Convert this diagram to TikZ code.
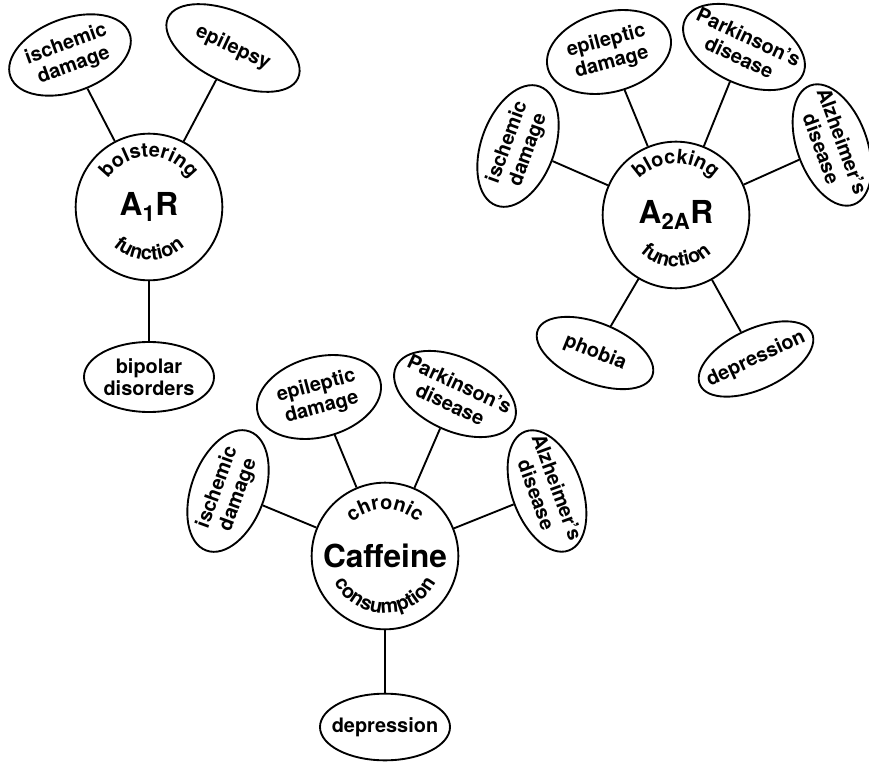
\documentclass[tikz,border=0pt]{standalone}
\usepackage{fontspec}
\setmainfont{TeX Gyre Heros}
\usetikzlibrary{shapes.geometric,decorations.text}
\newcommand{\arcfont}{\fontsize{17}{17}\selectfont\bfseries}
\tikzset{
  hub/.style={circle, draw, line width=1.6pt, minimum size=4.4cm, inner sep=0pt, font=\fontsize{27}{29}\selectfont\bfseries},
  leaf/.style={ellipse, draw, line width=1.6pt, minimum width=3.8cm, minimum height=2.2cm, inner xsep=-0.4cm, inner ysep=0pt, align=center, font=\fontsize{17}{19}\selectfont\bfseries},
  link/.style={line width=1.6pt},
  arctext/.style={decorate, decoration={text along path, text align=center, text={|\arcfont|#1}}}
}
\begin{document}
\begin{tikzpicture}[x=0.03cm, y=-0.03cm]
  \useasboundingbox (0,0) rectangle (869,765);
  % A1R receptor
  \node[hub] (a1) at (149,207) {A\textsubscript{1}R};
  \node[leaf, rotate=20] (a1isch) at (70,55) {ischemic\\damage};
  \node[leaf, rotate=-25, minimum width=4.3cm, minimum height=2.1cm] (a1epil) at (233,48) {epilepsy};
  \node[leaf, minimum width=3.9cm, minimum height=2.1cm] (a1bipo) at (149,377) {bipolar\\disorders};
  \draw[link] (a1) -- (a1isch);
  \draw[link] (a1) -- (a1epil);
  \draw[link] (a1) -- (a1bipo);
  \path[arctext=bolstering] ([shift={(165:1.5cm)}]a1.center) arc[start angle=165, end angle=15, radius=1.5cm];
  \path[arctext=function] ([shift={(205:1.6cm)}]a1.center) arc[start angle=205, end angle=335, radius=1.6cm];
  % A2AR receptor
  \node[hub] (a2) at (676,215) {A\textsubscript{2A}R};
  \node[leaf, rotate=15, minimum height=2.4cm] (a2epil) at (609,52) {epileptic\\damage};
  \node[leaf, rotate=-25, minimum width=3.9cm] (a2park) at (744,47) {Parkinson's\\disease};
  \node[leaf, rotate=70] (a2isch) at (518,146) {ischemic\\damage};
  \node[leaf, rotate=-70, minimum height=2.1cm] (a2alz) at (832,145) {Alzheimer's\\disease};
  \node[leaf, rotate=-22, minimum width=3.7cm, minimum height=1.8cm] (a2phob) at (595,353) {phobia};
  \node[leaf, rotate=25, minimum width=3.7cm, minimum height=1.8cm] (a2depr) at (756,359) {depression};
  \foreach \leaf in {a2epil,a2park,a2isch,a2alz,a2phob,a2depr}
    \draw[link] (a2) -- (\leaf);
  \path[arctext=blocking] ([shift={(165:1.55cm)}]a2.center) arc[start angle=165, end angle=15, radius=1.55cm];
  \path[arctext=function] ([shift={(205:1.55cm)}]a2.center) arc[start angle=205, end angle=335, radius=1.55cm];
  % caffeine
  \node[hub] (caf) at (385,556) {Caffeine};
  \node[leaf, rotate=15, minimum height=2.4cm] (cepil) at (319,397) {epileptic\\damage};
  \node[leaf, rotate=-25, minimum width=3.9cm] (cpark) at (455,394) {Parkinson's\\disease};
  \node[leaf, rotate=70] (cisch) at (228,491) {ischemic\\damage};
  \node[leaf, rotate=-70, minimum height=2.1cm] (calz) at (547,491) {Alzheimer's\\disease};
  \node[leaf, minimum width=3.9cm, minimum height=2cm] (cdepr) at (385,727) {depression};
  \foreach \leaf in {cepil,cpark,cisch,calz,cdepr}
    \draw[link] (caf) -- (\leaf);
  \path[arctext=chronic] ([shift={(165:1.4cm)}]caf.center) arc[start angle=165, end angle=15, radius=1.4cm];
  \path[arctext=consumption] ([shift={(200:1.72cm)}]caf.center) arc[start angle=200, end angle=340, radius=1.72cm];
\end{tikzpicture}
\end{document}
